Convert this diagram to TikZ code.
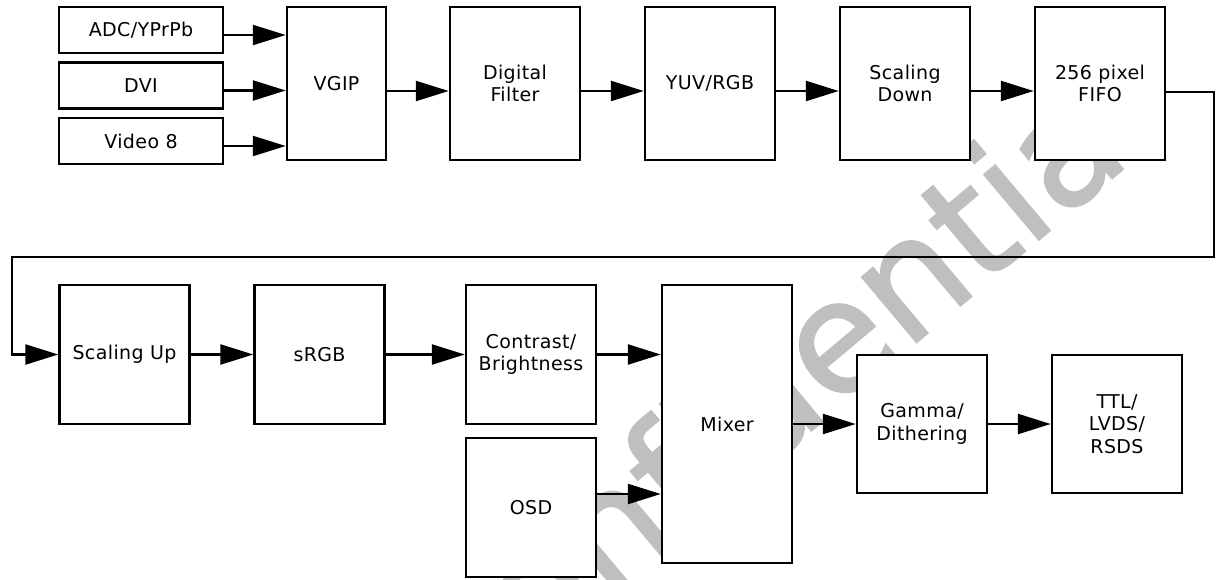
\documentclass[tikz,border=0pt]{standalone}
\usepackage{fontspec}
\setmainfont{DejaVu Sans}
\newfontfamily\boxfont{DejaVu Sans}[LetterSpace=2]
\newfontfamily\markfont{DejaVu Sans}[FakeBold=1.5]
\usetikzlibrary{arrows.meta}
\tikzstyle{block} = [rectangle, minimum width=130pt, minimum height=153pt, text centered, align=center, draw=black, line width=2.5pt, fill=white, font=\boxfont\fontsize{19}{22.5}\selectfont]
\tikzstyle{input} = [block, minimum width=164pt, minimum height=46pt]
\tikzstyle{arrow} = [line width=2.5pt, -{Triangle[length=33pt, width=20pt]}]
\tikzstyle{watermark} = [text=black!25, rotate=40, font=\markfont\fontsize{155}{155}\selectfont]

\begin{document}
\begin{tikzpicture}[node distance=195pt, x=1pt, y=1pt]
\useasboundingbox (0,0) rectangle (1217,-579);

% Watermark
\node (conf) [watermark] at (772,-388) {Confidential};

% Nodes
\node (adc) [input] at (141,-30) {ADC/YPrPb};
\node (dvi) [input] at (141,-85.5) {DVI};
\node (vid) [input] at (141,-141) {Video 8};
\node (vgip) [block, minimum width=99pt] at (336.5,-83.5) {VGIP};
\node (filt) [block, right of=vgip, xshift=-16.5pt] {Digital\\Filter};
\node (yuv) [block, right of=filt] {YUV/RGB};
\node (down) [block, right of=yuv] {Scaling\\Down};
\node (fifo) [block, right of=down] {256 pixel\\FIFO};

\node (up) [block, minimum height=139pt] at (124.5,-354.5) {Scaling Up};
\node (srgb) [block, minimum height=139pt, right of=up] {sRGB};
\node (cont) [block, minimum height=139pt, right of=srgb, xshift=16.5pt] {Contrast/\\Brightness};
\node (osd) [block, minimum height=139pt] at (531,-507.5) {OSD};
\node (mix) [block, minimum height=278pt] at (727,-424) {Mixer};
\node (gam) [block, minimum height=138pt, right of=mix] {Gamma/\\Dithering};
\node (ttl) [block, minimum height=138pt, right of=gam] {TTL/\\LVDS/\\RSDS};

\coordinate (turnR) at (1214,-257);
\coordinate (turnL) at (12,-257);

% Arrows
\draw [arrow] ([yshift=-5pt]adc.east) -- ([yshift=-5pt]adc.east -| vgip.west);
\draw [arrow] ([yshift=-5pt]dvi.east) -- ([yshift=-5pt]dvi.east -| vgip.west);
\draw [arrow] ([yshift=-5pt]vid.east) -- ([yshift=-5pt]vid.east -| vgip.west);
\draw [arrow] ([yshift=-7.5pt]vgip.east) -- ([yshift=-7.5pt]filt.west);
\draw [arrow] ([yshift=-7.5pt]filt.east) -- ([yshift=-7.5pt]yuv.west);
\draw [arrow] ([yshift=-7.5pt]yuv.east) -- ([yshift=-7.5pt]down.west);
\draw [arrow] ([yshift=-7.5pt]down.east) -- ([yshift=-7.5pt]fifo.west);
\draw [arrow] ([yshift=-8.5pt]fifo.east) -| (turnR) -- (turnL) |- (up.west);
\draw [arrow] (up.east) -- (srgb.west);
\draw [arrow] (srgb.east) -- (cont.west);
\draw [arrow] (cont.east) -- (cont.east -| mix.west);
\draw [arrow] ([yshift=13.5pt]osd.east) -- ([yshift=13.5pt]osd.east -| mix.west);
\draw [arrow] (mix.east) -- (gam.west);
\draw [arrow] (gam.east) -- (ttl.west);

\end{tikzpicture}
\end{document}
